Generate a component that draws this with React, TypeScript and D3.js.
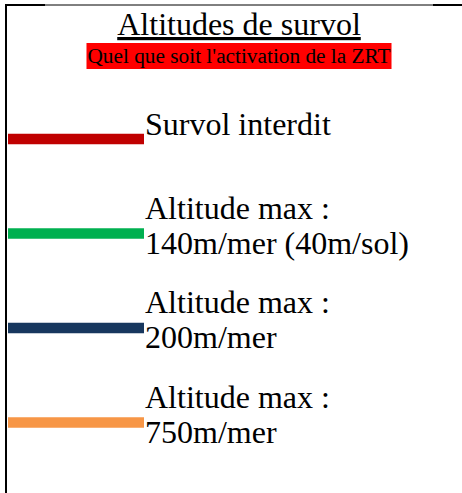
import React, { useEffect, useRef } from "react";
import * as d3 from "d3";

const TITLE = "Altitudes de survol";
const SUBTITLE = "Quel que soit l'activation de la ZRT";
const categories = ["interdit", "140", "200", "750"];
const labelLine1 = ["Survol interdit", "Altitude max :", "Altitude max :", "Altitude max :"];
const labelLine2 = ["", "140m/mer (40m/sol)", "200m/mer", "750m/mer"];
const colors = ["#C00000", "#00B050", "#17375E", "#F79646"];

const W = 462;
const H = 493;
const FONT = "'Liberation Serif', 'Times New Roman', Times, serif";

export default function App() {
  const ref = useRef<SVGSVGElement | null>(null);

  useEffect(() => {
    const svg = d3.select(ref.current);
    svg.selectAll("*").remove();

    // frame
    svg.append("line").attr("x1", 6).attr("x2", 6).attr("y1", 4).attr("y2", H)
      .attr("stroke", "#000").attr("stroke-width", 2);
    svg.append("line").attr("x1", 5).attr("x2", 45).attr("y1", 5).attr("y2", 5)
      .attr("stroke", "#000").attr("stroke-width", 2);
    svg.append("line").attr("x1", 45).attr("x2", 433).attr("y1", 5).attr("y2", 5)
      .attr("stroke", "#000").attr("stroke-width", 1);
    svg.append("line").attr("x1", 433).attr("x2", W).attr("y1", 5).attr("y2", 5)
      .attr("stroke", "#000").attr("stroke-width", 2);

    // title
    svg.append("text").attr("x", 239).attr("y", 35)
      .attr("text-anchor", "middle")
      .attr("font-family", FONT).attr("font-size", 32)
      .attr("fill", "#000")
      .attr("text-decoration", "underline")
      .text(TITLE);

    // subtitle with red highlight
    const sub = svg.append("g");
    const rect = sub.append("rect").attr("fill", "#FF0000");
    const st = sub.append("text").attr("x", 239).attr("y", 63)
      .attr("text-anchor", "middle")
      .attr("font-family", FONT).attr("font-size", 21.3)
      .attr("fill", "#000")
      .text(SUBTITLE);
    const bb = (st.node() as SVGTextElement).getBBox();
    rect.attr("x", bb.x - 1).attr("width", bb.width + 2).attr("y", 43).attr("height", 26);

    // legend rows
    const y = d3.scalePoint<string>().domain(categories).range([139, 422.5]);
    const x = d3.scaleLinear().domain([0, 1]).range([8, 144]);

    const rows = svg.selectAll("g.row").data(categories).join("g").attr("class", "row");
    rows.append("line")
      .attr("x1", x(0)).attr("x2", x(1))
      .attr("y1", (d) => y(d)!).attr("y2", (d) => y(d)!)
      .attr("stroke", (_d, i) => colors[i])
      .attr("stroke-width", 10.5);
    rows.append("text")
      .attr("x", 145)
      .attr("y", (d, i) => (labelLine2[i] ? y(d)! - 15 : y(d)! - 4))
      .attr("font-family", FONT).attr("font-size", 32).attr("fill", "#000")
      .text((_d, i) => labelLine1[i]);
    rows.append("text")
      .attr("x", 145)
      .attr("y", (d) => y(d)! + 20)
      .attr("font-family", FONT).attr("font-size", 32).attr("fill", "#000")
      .text((_d, i) => labelLine2[i]);
  }, []);

  return (
    <svg
      ref={ref}
      width={W}
      height={H}
      style={{ position: "absolute", left: 0, top: 0, background: "#fff" }}
    />
  );
}
